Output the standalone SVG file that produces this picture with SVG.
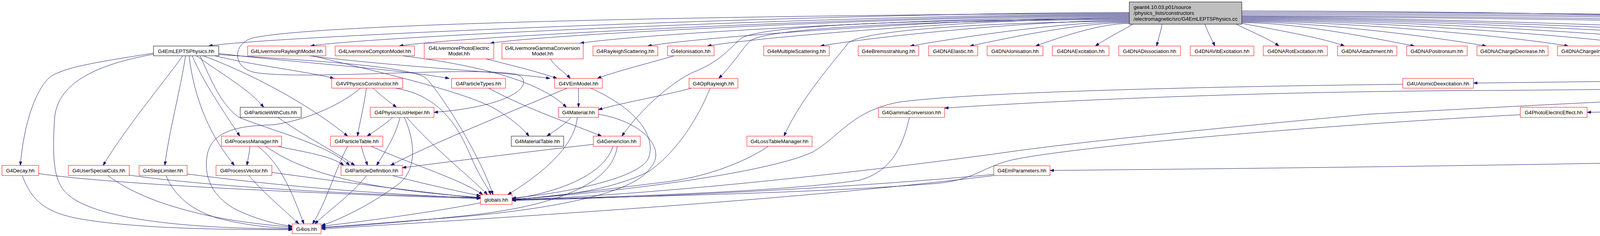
<svg xmlns="http://www.w3.org/2000/svg" width="5668" height="605" viewBox="0 0 5668 605">
<style>
.n rect{fill:#fff;stroke:#ff0000;stroke-width:1}
.n.k rect{stroke:#000}
.n text{font-family:"Liberation Sans",Arial,Helvetica,sans-serif;font-size:13.33px;text-anchor:middle;fill:#000}
#root rect{fill:#bfbfbf;stroke:#000}
#root text{text-anchor:start}
#edges path{fill:none;stroke:#191970;stroke-width:1;marker-end:url(#arr)}
</style>
<defs>
<marker id="arr" markerWidth="10" markerHeight="7" refX="10" refY="3.5" orient="auto" markerUnits="userSpaceOnUse">
<path d="M0,0 L10,3.5 L0,7 z" fill="#191970" stroke="#191970" stroke-width="1"/>
</marker>
</defs>
<rect width="5668" height="605" fill="#fff"/>
<g id="edges">
<path d="M2891,32 C2184,32 684,92 534,118"/>
<path d="M2891,36 C2262,36 945,92 795,118"/>
<path d="M2891,38 C2330,38 1172,92 1022,118"/>
<path d="M2891,40 C2400,40 1405,86 1255,111"/>
<path d="M2891,42 C2469,42 1635,86 1485,111"/>
<path d="M2891,44 C2521,44 1808,92 1658,118"/>
<path d="M2891,46 C2567,46 1961,92 1811,118"/>
<path d="M2891,52 C2654,52 2250,92 2100,118"/>
<path d="M2891,56 C2723,56 2480,92 2330,118"/>
<path d="M2891,58 C2769,58 2605,92 2483,118"/>
<path d="M2891,60 C2819,60 2723,92 2651,118"/>
<path d="M2900,62 C2870,80 2830,100 2804,118"/>
<path d="M2975,62 C2972,80 2965,100 2961,118"/>
<path d="M3085,62 C3090,80 3102,100 3110,118"/>
<path d="M3165,62 C3200,80 3250,100 3274,118"/>
<path d="M3179,60 C3260,75 3390,98 3442,118"/>
<path d="M3179,58 C3312,58 3488,92 3621,118"/>
<path d="M3179,56 C3367,56 3655,92 3805,118"/>
<path d="M3179,54 C3430,54 3865,92 4015,118"/>
<path d="M3179,52 C3490,52 4065,92 4215,118"/>
<path d="M3179,50 C3552,50 4271,92 4421,118"/>
<path d="M3179,48 C3617,48 4488,92 4638,118"/>
<path d="M3179,46 C3684,46 4711,92 4861,118"/>
<path d="M3179,44 C3753,44 4942,92 5092,118"/>
<path d="M3179,28 C4500,30 5430,80 5550,118"/>
<path d="M3179,42 C4000,46 5150,66 5240,95 C5290,112 5285,150 5250,165 C5100,200 4400,205 3772,213"/>
<path d="M3179,40 C4200,44 5200,62 5280,100 C5312,125 5300,165 5250,185 C5100,215 4400,228 3800,232 C3300,234 2800,252 2418,277"/>
<path d="M3179,37 C4300,40 5280,58 5330,90 C5365,112 5375,150 5343,201"/>
<path d="M3179,34 C4300,36 5300,55 5385,92 C5440,120 5455,215 5400,238 C5250,272 4500,280 4063,288"/>
<path d="M3179,31 C4400,33 5360,50 5445,92 C5495,120 5501,165 5501,200 L5501,290 C5501,350 5200,400 4400,413 C3800,425 3200,432 2688,437"/>
<path d="M2891,34 C2000,38 800,58 645,98 C595,112 592,178 660,187 C800,205 1200,170 1320,190 C1370,205 1340,270 1111,288"/>
<path d="M2891,48 C2400,50 1940,62 1895,100 C1868,125 1840,160 1775,185 C1720,210 1640,280 1592,349"/>
<path d="M2891,50 C2400,52 1960,70 1920,105 C1900,125 1880,160 1840,201"/>
<path d="M2891,54 C2500,58 2200,78 2170,112 C2150,140 2050,250 2007,349"/>
<path d="M393,136 C280,155 160,170 125,200 C85,240 60,330 52,424"/>
<path d="M393,139 C250,165 150,210 140,300 C132,420 140,470 175,500 C270,580 600,586 748,587"/>
<path d="M468,143 C420,210 320,330 264,424"/>
<path d="M475,143 C462,230 432,340 422,424"/>
<path d="M484,143 C498,260 540,350 600,424"/>
<path d="M492,143 C520,210 575,290 614,349"/>
<path d="M503,143 C560,185 640,230 675,275"/>
<path d="M520,143 C660,195 800,275 890,349"/>
<path d="M512,143 C545,215 565,265 610,300 C680,330 840,370 895,424"/>
<path d="M550,143 C650,168 780,182 855,201"/>
<path d="M560,137 C750,160 1000,175 1150,201"/>
<path d="M560,140 C800,155 1050,170 1090,200 C1130,240 1230,400 1262,499"/>
<path d="M712,301 C780,350 860,390 908,424"/>
<path d="M640,375 C638,392 635,408 632,424"/>
<path d="M660,375 C720,420 750,500 778,574"/>
<path d="M680,375 C800,460 1000,490 1230,506"/>
<path d="M710,375 C780,390 850,400 880,424"/>
<path d="M637,450 C680,500 730,540 765,574"/>
<path d="M696,442 C900,470 1100,495 1230,508"/>
<path d="M57,450 C80,510 110,545 210,562 C380,590 620,588 748,589"/>
<path d="M99,445 C300,475 900,500 1230,509"/>
<path d="M276,450 C330,490 400,520 500,545 C600,570 700,578 748,582"/>
<path d="M331,449 C550,480 900,498 1230,507"/>
<path d="M425,450 C445,500 490,540 560,560 C640,580 700,584 748,585"/>
<path d="M479,446 C700,475 950,497 1230,508"/>
<path d="M925,375 C930,395 936,410 941,424"/>
<path d="M950,375 C1050,420 1180,460 1236,499"/>
<path d="M890,375 C860,430 835,520 800,574"/>
<path d="M1005,301 C985,320 960,335 940,349"/>
<path d="M1024,301 C1012,350 985,390 964,424"/>
<path d="M1041,301 C1110,380 1200,450 1248,499"/>
<path d="M1035,301 C1062,360 1068,430 1025,468 C965,515 880,560 823,578"/>
<path d="M955,226 C975,245 995,260 1015,275"/>
<path d="M938,226 C932,270 922,310 915,349"/>
<path d="M1012,226 C1130,245 1175,330 1205,400 C1230,460 1250,480 1256,499"/>
<path d="M923,226 C880,262 800,305 700,320 C610,322 540,335 530,400 C522,450 540,500 600,535 C660,565 710,575 748,580"/>
<path d="M1481,226 C1481,245 1481,260 1481,275"/>
<path d="M1452,226 C1300,290 1100,370 1000,424"/>
<path d="M1512,226 C1600,265 1680,330 1662,400 C1650,455 1450,495 1311,508"/>
<path d="M1462,301 C1445,320 1420,335 1400,349"/>
<path d="M1478,301 C1470,380 1380,450 1300,499"/>
<path d="M1532,293 C1640,310 1710,380 1665,430 C1620,505 1350,545 1100,562 C1000,570 900,578 823,583"/>
<path d="M1519,370 C1300,395 1150,415 1030,430"/>
<path d="M1569,375 C1550,440 1450,490 1311,510"/>
<path d="M1580,375 C1570,460 1450,525 1200,552 C1050,568 900,580 823,584"/>
<path d="M1251,226 C1350,280 1470,320 1540,349"/>
<path d="M1004,450 C1080,470 1170,490 1230,502"/>
<path d="M938,450 C900,500 840,540 806,574"/>
<path d="M1230,520 C1100,545 950,565 823,580"/>
<path d="M1770,226 C1700,245 1600,262 1532,281"/>
<path d="M1818,226 C1780,320 1720,400 1660,440 C1560,490 1420,505 1311,511"/>
<path d="M1967,375 C1900,420 1800,455 1700,467 C1550,485 1420,503 1311,512"/>
<path d="M2328,301 C2310,380 2280,440 2200,462 C2000,492 1600,503 1311,513"/>
<path d="M2544,447 C2200,480 1700,505 1311,514"/>
<path d="M2544,450 C2100,505 1500,545 823,587"/>
<path d="M3591,216 C3100,222 2500,235 2300,262 C2180,285 2150,350 2080,390 C1950,450 1500,500 1311,511"/>
<path d="M3892,294 C3400,320 2800,370 2600,408 C2520,424 2500,460 2400,470 C2100,495 1600,505 1311,512"/>
<path d="M5244,218 C4700,230 4000,265 3500,293 C3100,330 2800,360 2600,387 C2300,430 1700,500 1311,512"/>
<path d="M792,143 C1000,170 1300,185 1408,201"/>
<path d="M1244,151 C1320,170 1380,185 1426,201"/>
<path d="M1409,151 C1420,170 1445,185 1460,201"/>
<path d="M1726,143 C1650,165 1570,185 1529,201"/>
<path d="M1030,143 C1250,170 1390,215 1450,275"/>
<path d="M800,143 C950,180 1150,225 1250,270 C1300,295 1340,330 1354,349"/>
</g>
<g id="root" class="n"><rect x="2891" y="5" width="288" height="57"/><text x="2902" y="23">geant4.10.03.p01/source</text><text x="2902" y="38">/physics_lists/constructors</text><text x="2902" y="53">/electromagnetic/src/G4EmLEPTSPhysics.cc</text></g>
<g id="n_EmLEPTSPhysics" class="n k"><rect x="393" y="118" width="167" height="25"/><text x="476.5" y="135.5">G4EmLEPTSPhysics.hh</text></g>
<g id="n_LivRayleigh" class="n"><rect x="634" y="118" width="200" height="25"/><text x="734" y="135.5">G4LivermoreRayleighModel.hh</text></g>
<g id="n_LivCompton" class="n"><rect x="858" y="118" width="203" height="25"/><text x="959.5" y="135.5">G4LivermoreComptonModel.hh</text></g>
<g id="n_LivPE" class="n"><rect x="1086" y="111" width="178" height="40"/><text x="1175" y="128">G4LivermorePhotoElectric</text><text x="1175" y="142">Model.hh</text></g>
<g id="n_LivGC" class="n"><rect x="1285" y="111" width="208" height="40"/><text x="1389" y="128">G4LivermoreGammaConversion</text><text x="1389" y="142">Model.hh</text></g>
<g id="n_RaySc" class="n"><rect x="1518" y="118" width="166" height="25"/><text x="1601" y="135.5">G4RayleighScattering.hh</text></g>
<g id="n_eIon" class="n"><rect x="1709" y="118" width="119" height="25"/><text x="1768.5" y="135.5">G4eIonisation.hh</text></g>
<g id="n_eMSc" class="n"><rect x="1955" y="118" width="168" height="25"/><text x="2039" y="135.5">G4eMultipleScattering.hh</text></g>
<g id="n_eBrem" class="n"><rect x="2197" y="118" width="155" height="25"/><text x="2274.5" y="135.5">G4eBremsstrahlung.hh</text></g>
<g id="n_DNAEl" class="n"><rect x="2377" y="118" width="126" height="25"/><text x="2440" y="135.5">G4DNAElastic.hh</text></g>
<g id="n_DNAIon" class="n"><rect x="2527" y="118" width="143" height="25"/><text x="2598.5" y="135.5">G4DNAIonisation.hh</text></g>
<g id="n_DNAExc" class="n"><rect x="2694" y="118" width="145" height="25"/><text x="2766.5" y="135.5">G4DNAExcitation.hh</text></g>
<g id="n_DNADis" class="n"><rect x="2864" y="118" width="158" height="25"/><text x="2943" y="135.5">G4DNADissociation.hh</text></g>
<g id="n_DNAVib" class="n"><rect x="3047" y="118" width="163" height="25"/><text x="3128.5" y="135.5">G4DNAVibExcitation.hh</text></g>
<g id="n_DNARot" class="n"><rect x="3234" y="118" width="164" height="25"/><text x="3316" y="135.5">G4DNARotExcitation.hh</text></g>
<g id="n_DNAAtt" class="n"><rect x="3424" y="118" width="152" height="25"/><text x="3500" y="135.5">G4DNAAttachment.hh</text></g>
<g id="n_DNAPos" class="n"><rect x="3601" y="118" width="155" height="25"/><text x="3678.5" y="135.5">G4DNAPositronium.hh</text></g>
<g id="n_DNAChD" class="n"><rect x="3781" y="118" width="182" height="25"/><text x="3872" y="135.5">G4DNAChargeDecrease.hh</text></g>
<g id="n_DNAChI" class="n"><rect x="3987" y="118" width="179" height="25"/><text x="4076.5" y="135.5">G4DNAChargeIncrease.hh</text></g>
<g id="n_LEPTSEl" class="n"><rect x="4191" y="118" width="174" height="25"/><text x="4278" y="135.5">G4LEPTSElasticModel.hh</text></g>
<g id="n_LEPTSIon" class="n"><rect x="4390" y="118" width="190" height="25"/><text x="4485" y="135.5">G4LEPTSIonisationModel.hh</text></g>
<g id="n_LEPTSExc" class="n"><rect x="4605" y="118" width="192" height="25"/><text x="4701" y="135.5">G4LEPTSExcitationModel.hh</text></g>
<g id="n_LEPTSVib" class="n"><rect x="4822" y="118" width="210" height="25"/><text x="4927" y="135.5">G4LEPTSVibExcitationModel.hh</text></g>
<g id="n_LEPTSAtt" class="n"><rect x="5056" y="118" width="202" height="25"/><text x="5157" y="135.5">G4LEPTSAttachmentModel.hh</text></g>
<g id="n_BuilderType" class="n k"><rect x="5538" y="118" width="124" height="25"/><text x="5600" y="135.5">G4BuilderType.hh</text></g>
<g id="n_VPhysCons" class="n"><rect x="849" y="201" width="182" height="25"/><text x="940" y="218.5">G4VPhysicsConstructor.hh</text></g>
<g id="n_PartTypes" class="n"><rect x="1156" y="201" width="138" height="25"/><text x="1225" y="218.5">G4ParticleTypes.hh</text></g>
<g id="n_VEmModel" class="n"><rect x="1420" y="201" width="122" height="25"/><text x="1481" y="218.5">G4VEmModel.hh</text></g>
<g id="n_OpRayleigh" class="n"><rect x="1764" y="201" width="125" height="25"/><text x="1826.5" y="218.5">G4OpRayleigh.hh</text></g>
<g id="n_UAtomic" class="n"><rect x="3591" y="201" width="181" height="25"/><text x="3681.5" y="218.5">G4UAtomicDeexcitation.hh</text></g>
<g id="n_Compton" class="n"><rect x="5244" y="201" width="169" height="25"/><text x="5328.5" y="218.5">G4ComptonScattering.hh</text></g>
<g id="n_PartWithCuts" class="n k"><rect x="615" y="275" width="156" height="26"/><text x="693" y="292.5">G4ParticleWithCuts.hh</text></g>
<g id="n_PhysListHelper" class="n"><rect x="948" y="275" width="163" height="26"/><text x="1029.5" y="292.5">G4PhysicsListHelper.hh</text></g>
<g id="n_Material" class="n"><rect x="1430" y="275" width="102" height="26"/><text x="1481" y="292.5">G4Material.hh</text></g>
<g id="n_GammaConv" class="n"><rect x="2249" y="275" width="169" height="26"/><text x="2333.5" y="292.5">G4GammaConversion.hh</text></g>
<g id="n_PhotoElec" class="n"><rect x="3892" y="275" width="171" height="26"/><text x="3977.5" y="292.5">G4PhotoElectricEffect.hh</text></g>
<g id="n_ProcMgr" class="n"><rect x="567" y="349" width="154" height="26"/><text x="644" y="366.5">G4ProcessManager.hh</text></g>
<g id="n_PartTable" class="n"><rect x="846" y="349" width="134" height="26"/><text x="913" y="366.5">G4ParticleTable.hh</text></g>
<g id="n_MatTable" class="n k"><rect x="1309" y="349" width="134" height="26"/><text x="1376" y="366.5">G4MaterialTable.hh</text></g>
<g id="n_GenericIon" class="n"><rect x="1519" y="349" width="120" height="26"/><text x="1579" y="366.5">G4GenericIon.hh</text></g>
<g id="n_LossTable" class="n"><rect x="1912" y="349" width="167" height="26"/><text x="1995.5" y="366.5">G4LossTableManager.hh</text></g>
<g id="n_Decay" class="n"><rect x="5" y="424" width="94" height="26"/><text x="52" y="441.5">G4Decay.hh</text></g>
<g id="n_UserCuts" class="n"><rect x="175" y="424" width="156" height="26"/><text x="253" y="441.5">G4UserSpecialCuts.hh</text></g>
<g id="n_StepLim" class="n"><rect x="356" y="424" width="123" height="26"/><text x="417.5" y="441.5">G4StepLimiter.hh</text></g>
<g id="n_ProcVec" class="n"><rect x="553" y="424" width="143" height="26"/><text x="624.5" y="441.5">G4ProcessVector.hh</text></g>
<g id="n_PartDef" class="n"><rect x="873" y="424" width="157" height="26"/><text x="951.5" y="441.5">G4ParticleDefinition.hh</text></g>
<g id="n_EmParams" class="n"><rect x="2544" y="425" width="144" height="25"/><text x="2616" y="442">G4EmParameters.hh</text></g>
<g id="n_globals" class="n"><rect x="1230" y="499" width="81" height="25"/><text x="1270.5" y="516.5">globals.hh</text></g>
<g id="n_G4ios" class="n"><rect x="748" y="574" width="74" height="25"/><text x="785" y="591.5">G4ios.hh</text></g>
</svg>
